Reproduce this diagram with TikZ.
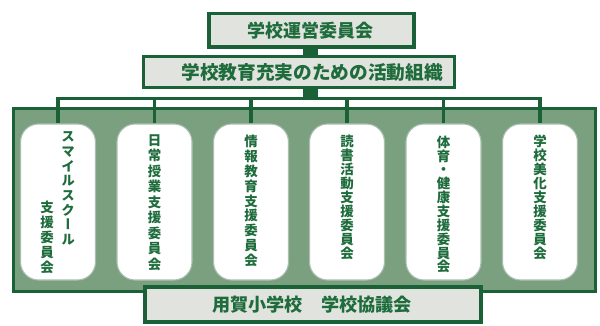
\documentclass[tikz,border=0pt]{standalone}
\usepackage{fontspec}
\newfontfamily\cjk{Noto Sans CJK JP}
\newfontfamily\cjkv[RawFeature=+vert]{Noto Sans CJK JP}
\definecolor{dkgreen}{RGB}{27,97,56}
\definecolor{txtgreen}{RGB}{30,108,60}
\definecolor{midgreen}{RGB}{122,160,128}
\definecolor{lightfill}{RGB}{225,228,222}
\definecolor{roundedge}{RGB}{170,190,175}
\begin{document}
\begin{tikzpicture}[x=0.75pt,y=-0.75pt,
  titlebox/.style={draw=dkgreen, line width=2.6pt, fill=lightfill, inner sep=0pt},
  titletext/.style={text=txtgreen, inner sep=0pt, font=\cjk\bfseries\fontsize{#1}{#1}\selectfont},
  bigpanel/.style={draw=dkgreen, line width=2.3pt, fill=midgreen},
  roundbox/.style={draw=roundedge, line width=0.8pt, fill=white, rounded corners=13.5pt,
    minimum width=56.25pt, minimum height=117pt, inner sep=0pt},
  vtext/.style={text=txtgreen, inner sep=0pt, align=center,
    font=\cjkv\bfseries\fontsize{10.1pt}{#1}\selectfont},
  thickconn/.style={draw=dkgreen, line width=11.25pt},
  conn/.style={draw=dkgreen, line width=2.3pt, line join=miter}]
\useasboundingbox (0,0) rectangle (600,325);
% top boxes
\node[titlebox, minimum width=153.75pt, minimum height=25.1pt] (top) at (311.5,30.25) {};
\node[titletext=13.5pt] (toptext) at (310.5,30.5) {学校運営委員会};
\node[titlebox, minimum width=233.25pt, minimum height=23.25pt] (mid) at (299,72) {};
\node[titletext=14pt] (midtext) at (312,72.5) {学校教育充実のための活動組織};
\coordinate (bus) at (310.5,98.5);
\draw[thickconn] (bus |- top.south) -- (bus |- mid.north);
\draw[thickconn] (bus |- mid.south) -- ([yshift=1.2pt]bus);
% green panel
\node[bigpanel, minimum width=436.5pt, minimum height=137.25pt] (panel) at (304.5,200) {};
% rounded boxes
\node[roundbox] (s1) at (58,202) {};
\node[roundbox] (s2) at (154.5,202) {};
\node[roundbox] (s3) at (251,202) {};
\node[roundbox] (s4) at (347,202) {};
\node[roundbox] (s5) at (443.5,202) {};
\node[roundbox] (s6) at (540,202) {};
\node[vtext=11pt] (t1a) at (68,188.5) {ス\\マ\\イ\\ル\\ス\\ク\\ー\\ル};
\node[vtext=11.25pt] (t1b) at (47,237) {支\\援\\委\\員\\会};
\node[vtext=11.6pt] (t2) at (154.5,202.5) {日\\常\\授\\業\\支\\援\\委\\員\\会};
\node[vtext=11.1pt] (t3) at (251,201) {情\\報\\教\\育\\支\\援\\委\\員\\会};
\node[vtext=10.5pt] (t4) at (347,197) {読\\書\\活\\動\\支\\援\\委\\員\\会};
\node[vtext=10.4pt] (t5) at (443.5,204.5) {体\\育\\・\\健\\康\\支\\援\\委\\員\\会};
\node[vtext=10.5pt] (t6) at (540,197) {学\\校\\美\\化\\支\\援\\委\\員\\会};
% connectors
\draw[conn] (s1.north) |- (bus) -| (s6.north);
\foreach \n in {s2,s3,s4,s5}
  \draw[conn] (\n.north) -- (\n.north |- bus);
% bottom box
\node[titlebox, line width=3pt, minimum width=252pt, minimum height=25.9pt] (bot) at (313,304.25) {};
\node[titletext=13.6pt] (bottext) at (312,304.5) {用賀小学校　学校協議会};
\end{tikzpicture}
\end{document}
